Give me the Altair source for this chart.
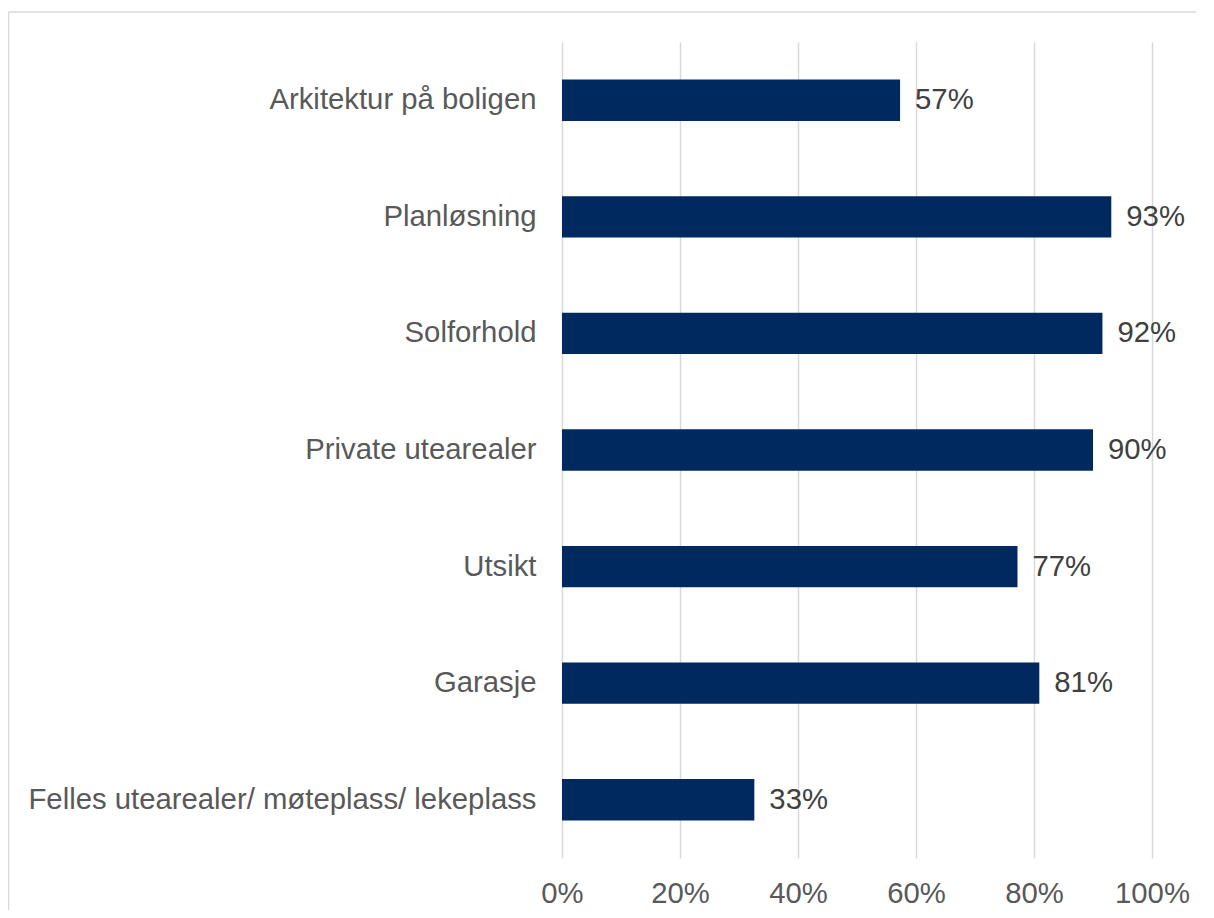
import altair as alt
import pandas as pd

categories = [
    "Arkitektur på boligen",
    "Planløsning",
    "Solforhold",
    "Private utearealer",
    "Utsikt",
    "Garasje",
    "Felles utearealer/ møteplass/ lekeplass",
]
values = [57.3, 93.1, 91.6, 90.0, 77.2, 80.9, 32.6]
labels = ["57%", "93%", "92%", "90%", "77%", "81%", "33%"]
x_ticks = [0, 20, 40, 60, 80, 100]

df = pd.DataFrame({"cat": categories, "val": values, "lab": labels})

FONT = "Liberation Sans"
FS = 29.3

y_enc = alt.Y(
    "cat:N",
    sort=categories,
    title=None,
    scale=alt.Scale(paddingInner=0.645, paddingOuter=0.3225),
    axis=alt.Axis(
        ticks=False,
        domain=False,
        grid=False,
        labelFont=FONT,
        labelFontSize=FS,
        labelColor="#595959",
        labelPadding=26,
        labelLimit=800,
    ),
)

x_enc = alt.X(
    "val:Q",
    title=None,
    scale=alt.Scale(domain=[0, 100], nice=False),
    axis=alt.Axis(
        values=x_ticks,
        labelExpr="datum.value + '%'",
        ticks=False,
        domain=False,
        grid=True,
        gridColor="#d9d9d9",
        gridWidth=1.5,
        labelFont=FONT,
        labelFontSize=FS,
        labelColor="#595959",
        labelPadding=21,
        labelAlign="center",
        labelFlush=False,
        labelOverlap=False,
    ),
)

base = alt.Chart(df)

bars = base.mark_bar(color="#002960").encode(y=y_enc, x=x_enc)

text = base.mark_text(
    align="left", baseline="middle", dx=15, font=FONT, fontSize=FS, color="#404040"
).encode(y=alt.Y("cat:N", sort=categories), x="val:Q", text="lab:N")

one = pd.DataFrame({"a": [0]})
frame_top = alt.Chart(one).mark_rule(color="#d9d9d9", strokeWidth=1.5).encode(
    x=alt.value(-553.5), x2=alt.value(800), y=alt.value(-30)
)
frame_left = alt.Chart(one).mark_rule(color="#d9d9d9", strokeWidth=1.5).encode(
    x=alt.value(-553.5), y=alt.value(-30), y2=alt.value(1000)
)

chart = alt.layer(frame_top, frame_left, bars, text).properties(
    width=590,
    height=816,
    autosize=alt.AutoSizeParams(type="none"),
    padding={"left": 554, "top": 34, "right": 44, "bottom": 52},
).configure_view(stroke=None)

chart.save("out.html", embed_options={"renderer": "svg", "actions": False})
